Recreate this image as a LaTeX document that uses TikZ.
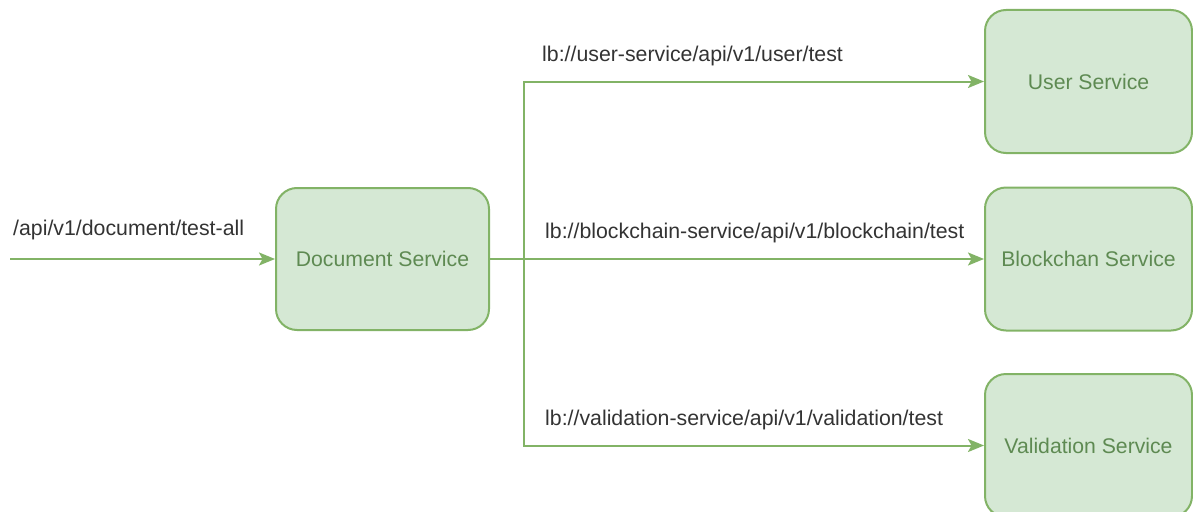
\documentclass[tikz,border=0pt]{standalone}
\usepackage{fontspec}
\setmainfont{Liberation Sans}
\usetikzlibrary{arrows.meta}
\definecolor{svcfill}{HTML}{D5E8D4}
\definecolor{svcline}{HTML}{82B366}
\definecolor{svctext}{HTML}{5E8A52}
\definecolor{lbltext}{HTML}{333333}
\tikzset{
  svc/.style={draw=svcline, fill=svcfill, line width=2pt, rounded corners=21pt,
    minimum width=207pt, minimum height=143pt, inner sep=0pt, text=svctext,
    font=\fontsize{21.2}{25}\selectfont},
  flow/.style={draw=svcline, line width=2pt,
    -{Stealth[length=16pt, width=13pt, inset=3.5pt]}},
  route/.style={anchor=west, text=lbltext, inner sep=0pt,
    font=\fontsize{21.3}{25}\selectfont}
}
\begin{document}
\begin{tikzpicture}[x=1pt, y=-1pt]
  \useasboundingbox (0,0) rectangle (1193,511);
  \clip (0,0) rectangle (1193,511);
  % services
  \node[svc, minimum width=213pt, minimum height=142pt] (doc) at (382.5,259) {Document Service};
  \node[svc] (user) at (1088.5,81.5) {User Service};
  \node[svc] (chain) at (1088.5,259) {Blockchan Service};
  \node[svc] (valid) at (1088.5,445.5) {Validation Service};
  % incoming request
  \coordinate (entry) at (10,259);
  \draw[flow] (entry) -- (doc.west);
  \node[route] (inlbl) at (13,230) {/api/v1/document/test-all};
  % fan-out to the services
  \coordinate (fork) at (524,259);
  \draw[flow] (doc.east) -- (chain.west);
  \draw[flow] (fork) |- (user.west);
  \draw[flow] (fork) |- (valid.west);
  \node[route] (ulbl) at (542,56) {lb://user-service/api/v1/user/test};
  \node[route] (clbl) at (545,233) {lb://blockchain-service/api/v1/blockchain/test};
  \node[route] (vlbl) at (545,420) {lb://validation-service/api/v1/validation/test};
\end{tikzpicture}
\end{document}
